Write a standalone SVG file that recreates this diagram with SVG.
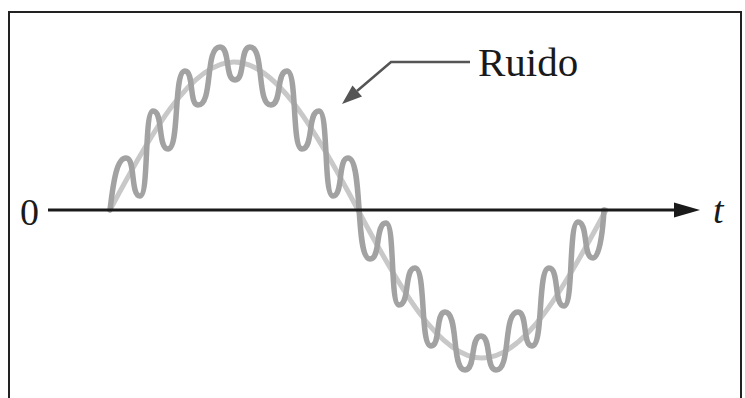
<svg xmlns="http://www.w3.org/2000/svg" width="745" height="398" viewBox="0 0 745 398">
<style>
.lbl{font-family:"Liberation Serif","Times New Roman",serif;fill:#1a1a1a}
.sig{fill:none;stroke:#c8c8c8;stroke-width:5;stroke-linecap:round}
.noise{fill:none;stroke:#a2a2a2;stroke-width:5.5;stroke-linecap:round;stroke-linejoin:round}
</style>
<rect x="0" y="0" width="745" height="398" fill="#ffffff"/>
<rect x="9" y="12" width="732" height="400" fill="none" stroke="#222" stroke-width="2"/>
<g id="signal">
<path class="sig" d="M110,210 C150.44,134.18 190.97,62 234,62 C277.03,62 317.56,134.18 358,210 C398.44,285.82 438.97,358 482,358 C525.03,358 565.56,285.82 606,210"/>
<path class="noise" d="M110,210 C113.5,180 117,158 126,158 C135.8,158 130.2,196 140,196 C149.1,196 143.9,111 153,111 C163.5,111 157.5,149 168,149 C179.9,149 173.1,71 185,71 C194.1,71 188.9,105 198,105 C213.4,105 204.6,47 220,47 C230.5,47 224.5,80 235,80 C245.5,80 239.5,47 250,47 C264.7,47 256.3,105 271,105 C282.2,105 275.8,71 287,71 C297.5,71 291.5,149 302,149 C313.9,149 307.1,111 319,111 C328.8,111 323.2,196 333,196 C343.5,196 337.5,158 348,158 C363.4,158 354.6,259 370,259 C381.2,259 374.8,223 386,223 C395.1,223 389.9,305 399,305 C410.2,305 403.8,268 415,268 C426.2,268 419.8,346 431,346 C440.8,346 435.2,312 445,312 C459,312 451,370 465,370 C476.2,370 469.8,336 481,336 C491.5,336 485.5,370 496,370 C511.4,370 502.6,312 518,312 C527.8,312 522.2,346 532,346 C543.9,346 537.1,268 549,268 C559.5,268 553.5,306 564,306 C573.8,306 568.2,222 578,222 C588.5,222 582.5,258 593,258 C599,258 602.5,236 604,210"/>
</g>
<g id="axis">
<line x1="48" y1="210" x2="678" y2="210" stroke="#1a1a1a" stroke-width="3"/>
<polygon points="674,202.5 700,210 674,217.5" fill="#1a1a1a"/>
<text class="lbl" x="20" y="225" font-size="38">0</text>
<text class="lbl" x="713" y="223" font-size="38" font-style="italic">t</text>
</g>
<g id="ruido">
<text class="lbl" x="478" y="76" font-size="41">Ruido</text>
</g>
<g id="connectors">
<polyline points="470,62 391,62 357,91" fill="none" stroke="#555" stroke-width="2.5"/>
<polygon points="342,104 362,96.5 352.5,85.5" fill="#555"/>
</g>
</svg>
